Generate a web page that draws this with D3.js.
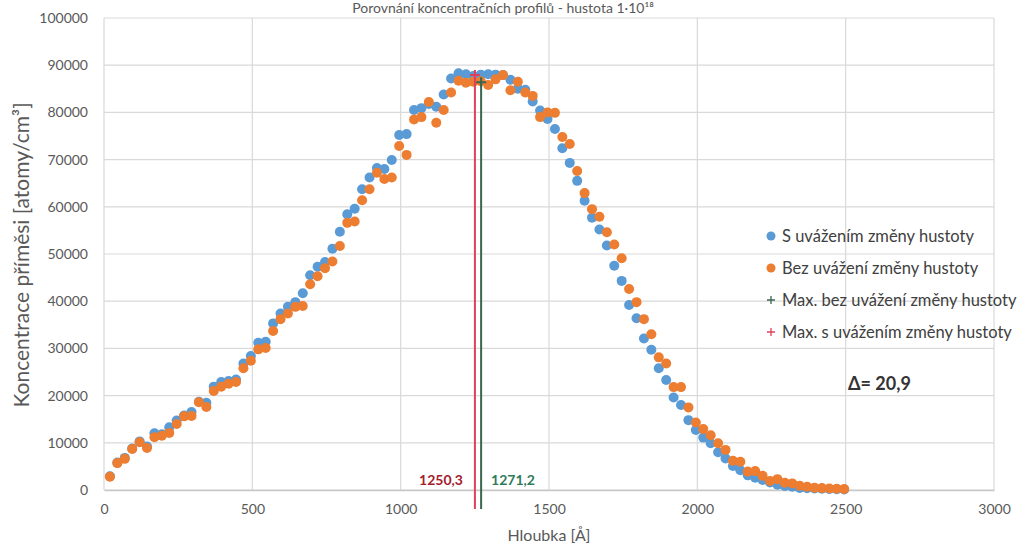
<!DOCTYPE html>
<html>
<head>
<meta charset="utf-8">
<script src="https://cdn.jsdelivr.net/npm/d3@7"></script>
<style>
  body { margin: 0; background: #fff; }
  text { font-family: Lato, "Open Sans", sans-serif; }
</style>
</head>
<body>
<div id="chart"></div>
<script>
// Depth values (Å), shared by both series
const depth = [20, 45, 70, 95, 120, 145, 170, 195, 220, 245,
  270, 295, 320, 345, 370, 395, 420, 445, 470, 495,
  520, 545, 570, 595, 620, 645, 670, 695, 720, 745,
  770, 795, 820, 845, 870, 895, 920, 945, 970, 995,
  1020, 1045, 1070, 1095, 1120, 1145, 1170, 1195, 1220, 1245,
  1270, 1295, 1320, 1345, 1370, 1395, 1420, 1445, 1470, 1495,
  1520, 1545, 1570, 1595, 1620, 1645, 1670, 1695, 1720, 1745,
  1770, 1795, 1820, 1845, 1870, 1895, 1920, 1945, 1970, 1995,
  2020, 2045, 2070, 2095, 2120, 2145, 2170, 2195, 2220, 2245,
  2270, 2295, 2320, 2345, 2370, 2395, 2420, 2445, 2470, 2495];

// S uvážením změny hustoty (blue)
const withDensity = [2900, 5800, 6800, 8800, 10300, 9200, 12000, 11800, 13300, 14700,
  15800, 16500, 18700, 18500, 21900, 22900, 23100, 23400, 26800, 28400,
  31200, 31400, 35300, 37400, 38800, 39800, 41700, 45500, 47300, 48300,
  51100, 54700, 58400, 59600, 63700, 66200, 68200, 68000, 69900, 75200,
  75400, 80500, 80900, 81800, 81200, 83800, 87200, 88300, 88100, 87700,
  88000, 88100, 88000, 87900, 86900, 85000, 84800, 82300, 80400, 78600,
  76500, 72400, 69300, 65500, 61300, 57700, 55200, 51800, 47500, 44300,
  39200, 36400, 32100, 29700, 25800, 23300, 19600, 18000, 14800, 12700,
  11100, 9900, 8000, 6700, 5100, 4200, 3100, 2600, 2100, 1600,
  1100, 850, 700, 420, 360, 300, 250, 200, 150, 100];

// Bez uvážení změny hustoty (orange)
const withoutDensity = [2800, 5700, 6600, 8700, 10100, 8900, 11200, 11500, 12100, 14000,
  15600, 15700, 18600, 17600, 21000, 21900, 22500, 22900, 25800, 27400,
  29800, 30100, 33700, 36200, 37400, 38800, 39000, 43600, 45300, 47000,
  48400, 51700, 56600, 56900, 61400, 63700, 67200, 65900, 66200, 72900,
  71000, 78500, 79000, 82200, 77800, 80500, 84200, 86700, 86300, 86500,
  86600, 85800, 87000, 87900, 84700, 86500, 84200, 83500, 79000, 80000,
  79900, 74800, 73300, 67600, 62900, 59500, 57900, 54600, 52000, 49100,
  42600, 39800, 36200, 33000, 28100, 26800, 21800, 21800, 17500, 14300,
  12900, 11600, 9900, 8500, 6200, 6000, 3900, 4000, 3000, 1900,
  2300, 1550, 1400, 900, 700, 500, 400, 300, 250, 200];

// Maxima (depth, concentration at the marker)
const maxima = [
  { name: "Max. s uvážením změny hustoty", depth: 1250.3, conc: 87900, color: "#e0405e", label: "1250,3", labelColor: "#a3202c" },
  { name: "Max. bez uvážení změny hustoty", depth: 1271.2, conc: 86400, color: "#3b6650", label: "1271,2", labelColor: "#2f7a5a" }
];

const xTicks = [0, 500, 1000, 1500, 2000, 2500, 3000];
const yTicks = [0, 10000, 20000, 30000, 40000, 50000, 60000, 70000, 80000, 90000, 100000];

const colors = {
  blue: "#5b9bd5",
  orange: "#ed7d31",
  grid: "#d9d9d9",
  text: "#595959"
};

const W = 1017, H = 546;
const margin = { top: 18, right: 23, bottom: 56, left: 104 };
const width = W - margin.left - margin.right,
      height = H - margin.top - margin.bottom;

const svg = d3.select("#chart").append("svg")
    .attr("width", W)
    .attr("height", H);

const g = svg.append("g")
    .attr("transform", `translate(${margin.left},${margin.top})`);

const x = d3.scaleLinear().domain([0, 3000]).range([0, width]);
const y = d3.scaleLinear().domain([0, 100000]).range([height, 0]);

// thin "+" marker path
const plus = s => `M${-s},0H${s}M0,${-s}V${s}`;

// Gridlines
g.append("g")
  .selectAll("line.h")
  .data(yTicks)
  .enter().append("line")
    .attr("x1", 0).attr("x2", width)
    .attr("y1", d => y(d)).attr("y2", d => y(d))
    .attr("stroke", colors.grid)
    .attr("stroke-width", 1.2);

g.append("g")
  .selectAll("line.v")
  .data(xTicks)
  .enter().append("line")
    .attr("x1", d => x(d)).attr("x2", d => x(d))
    .attr("y1", 0).attr("y2", height)
    .attr("stroke", colors.grid)
    .attr("stroke-width", 1.2);

// Axes
const xAxis = g.append("g")
    .attr("transform", `translate(0,${height})`)
    .call(d3.axisBottom(x).tickValues(xTicks).tickSize(0).tickPadding(14).tickFormat(d3.format("d")));
xAxis.select(".domain").attr("stroke", "#c8c8c8").attr("stroke-width", 1.5);
xAxis.selectAll("text").style("font-size", "14px").style("fill", colors.text);

const yAxis = g.append("g")
    .call(d3.axisLeft(y).tickValues(yTicks).tickSize(0).tickPadding(16).tickFormat(d3.format("d")));
yAxis.select(".domain").remove();
yAxis.selectAll("text").style("font-size", "14px").style("fill", colors.text);

// Blue series
g.append("g")
  .selectAll("circle")
  .data(depth)
  .enter().append("circle")
    .attr("cx", d => x(d))
    .attr("cy", (d, i) => y(withDensity[i]))
    .attr("r", 5)
    .attr("fill", colors.blue);

// Orange series
g.append("g")
  .selectAll("circle")
  .data(depth)
  .enter().append("circle")
    .attr("cx", d => x(d))
    .attr("cy", (d, i) => y(withoutDensity[i]))
    .attr("r", 5)
    .attr("fill", colors.orange);

// Maximum lines, markers and labels
maxima.forEach((m, k) => {
  g.append("line")
    .attr("x1", x(m.depth)).attr("x2", x(m.depth))
    .attr("y1", y(m.conc)).attr("y2", y(-4000))
    .attr("stroke", m.color)
    .attr("stroke-width", 2);
  g.append("path")
    .attr("d", plus(5))
    .attr("transform", `translate(${x(m.depth)},${y(m.conc)})`)
    .attr("fill", "none")
    .attr("stroke", m.color)
    .attr("stroke-width", 2);
  g.append("text")
    .attr("x", k === 0 ? x(m.depth) - 12 : x(m.depth) + 10)
    .attr("y", height - 5)
    .attr("text-anchor", k === 0 ? "end" : "start")
    .style("font-size", "14px")
    .style("font-weight", "bold")
    .style("fill", m.labelColor)
    .text(m.label);
});

// Delta annotation
svg.append("text")
  .attr("x", 848)
  .attr("y", 390)
  .style("font-size", "18px")
  .style("font-weight", "bold")
  .style("fill", "#333")
  .text("\u0394= 20,9");

// Legend
const legend = [
  { name: "S uvážením změny hustoty", type: "circle", color: colors.blue },
  { name: "Bez uvážení změny hustoty", type: "circle", color: colors.orange },
  { name: "Max. bez uvážení změny hustoty", type: "cross", color: "#3b6650" },
  { name: "Max. s uvážením změny hustoty", type: "cross", color: "#e0405e" }
];
const lg = svg.append("g").attr("transform", "translate(771,236)");
legend.forEach((l, i) => {
  const row = lg.append("g").attr("transform", `translate(0,${i * 32})`);
  if (l.type === "circle") {
    row.append("circle").attr("r", 4.5).attr("fill", l.color);
  } else {
    row.append("path")
      .attr("d", plus(4))
      .attr("fill", "none")
      .attr("stroke", l.color)
      .attr("stroke-width", 1.3);
  }
  row.append("text")
    .attr("x", 11)
    .attr("dy", "0.35em")
    .style("font-size", "16.5px")
    .style("fill", "#404040")
    .text(l.name);
});

// Axis titles
svg.append("text")
  .attr("x", margin.left + width / 2)
  .attr("y", 541)
  .attr("text-anchor", "middle")
  .style("font-size", "16px")
  .style("fill", colors.text)
  .text("Hloubka [Å]");

svg.append("text")
  .attr("transform", "translate(29,255) rotate(-90)")
  .attr("text-anchor", "middle")
  .style("font-size", "21px")
  .style("fill", colors.text)
  .text("Koncentrace příměsi [atomy/cm³]");

// Chart title, squeezed into the strip above the plot
svg.append("text")
  .attr("x", 503)
  .attr("y", 13)
  .attr("text-anchor", "middle")
  .style("font-size", "14px")
  .style("fill", colors.text)
  .text("Porovnání koncentračních profilů - hustota 1·10¹⁸");
</script>
</body>
</html>
